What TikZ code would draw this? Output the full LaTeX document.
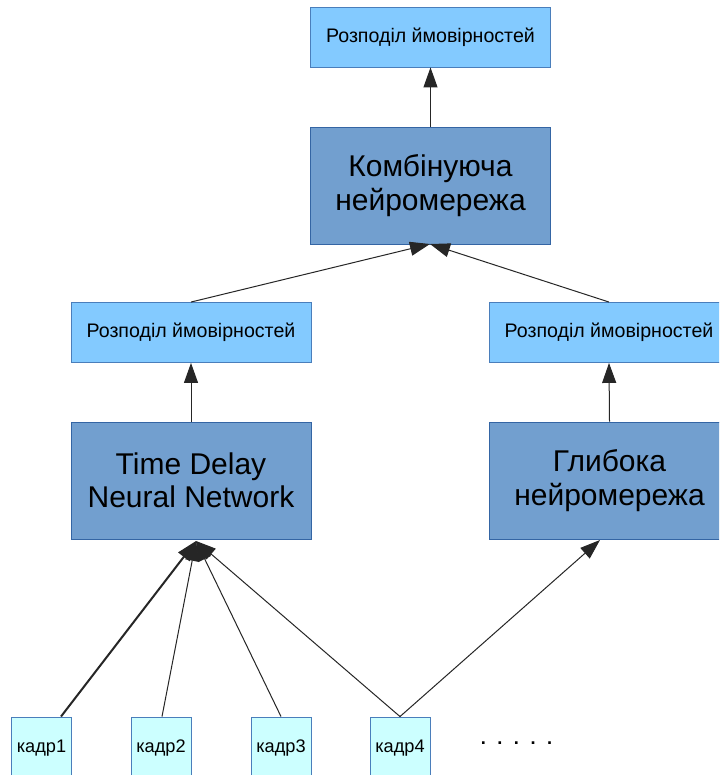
\documentclass[tikz,border=0pt]{standalone}
\usepackage{fontspec}
\setmainfont{Liberation Sans}
\usetikzlibrary{arrows.meta}
\definecolor{probfill}{HTML}{83CAFF}
\definecolor{mainfill}{HTML}{729FCF}
\definecolor{framefill}{HTML}{CCFFFF}
\definecolor{boxline}{HTML}{3465A4}
\definecolor{lightline}{HTML}{4A7EBB}
\tikzset{
  probbox/.style={draw=lightline, fill=probfill, line width=0.9pt, minimum width=240pt, minimum height=60pt, inner sep=0pt, font=\fontsize{19.6}{23}\selectfont, align=center},
  mainbox/.style={draw=boxline, fill=mainfill, line width=0.9pt, minimum width=240pt, minimum height=117pt, inner sep=0pt, font=\fontsize{30}{33.5}\selectfont, align=center},
  framebox/.style={draw=lightline, fill=framefill, line width=0.9pt, minimum width=60pt, minimum height=62pt, inner sep=0pt, font=\fontsize{18.2}{21}\selectfont},
  conn/.style={line width=1pt, draw=black!85, -{Triangle[length=20pt,width=14pt]}},
}
\begin{document}
\begin{tikzpicture}[x=1pt,y=-1pt]
\path[use as bounding box, clip] (0,0) rectangle (719,775);
\fill[white] (0,0) rectangle (719,775);
% boxes
\node[probbox] (ptop) at (430.5,37) {Розподіл ймовірностей};
\node[mainbox] (comb) at (430.5,185.5) {Комбінуюча\\нейромережа};
\node[probbox] (pleft) at (191,332.5) {Розподіл ймовірностей};
\node[probbox] (pright) at (609,332.5) {Розподіл ймовірностей};
\node[mainbox] (tdnn) at (191,480.5) {Time Delay\\Neural Network};
\node[mainbox] (dnn) at (609.5,480.5) {Глибока\\нейромережа};
\node[framebox] (k1) at (41.5,748) {кадр1};
\node[framebox] (k2) at (161,748) {кадр2};
\node[framebox] (k3) at (281,748) {кадр3};
\node[framebox] (k4) at (400,748) {кадр4};
\node[font=\fontsize{18.2}{21}\selectfont\bfseries, inner sep=0pt] (dots) at (516.5,743) {.\hspace{11.5pt}.\hspace{11.5pt}.\hspace{11.5pt}.\hspace{11.5pt}.};
% connectors
\coordinate (tdnnin) at (196,541);
\coordinate (combin) at (430,244);
\draw[conn] (comb.north) -- (ptop.south);
\draw[conn] (pleft.north) -- (combin);
\draw[conn] (pright.north) -- (combin);
\draw[conn] (tdnn.north) -- (pleft.south);
\draw[conn] (dnn.north) -- (pright.south);
\draw[conn, line width=2pt] (k1.north -| 61,0) -- (tdnnin);
\draw[conn] (k2.north -| 162,0) -- (tdnnin);
\draw[conn] (k3.north) -- (tdnnin);
\draw[conn] (k4.north) -- (tdnnin);
\draw[conn] (k4.north) -- (600,540);
\end{tikzpicture}
\end{document}
